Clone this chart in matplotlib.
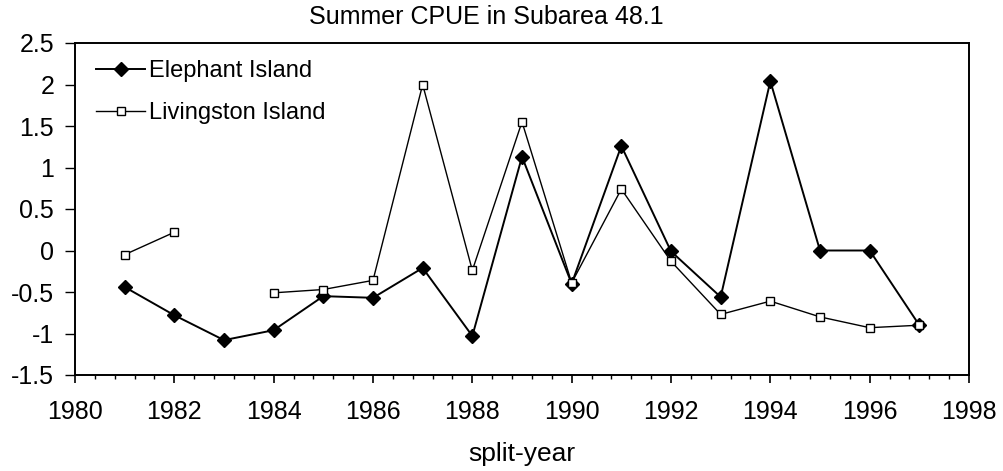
import matplotlib.pyplot as plt
import numpy as np
from matplotlib.ticker import MultipleLocator

plt.rcParams['font.family'] = ['Liberation Sans', 'DejaVu Sans']

# split-years and CPUE values
years = [1981, 1982, 1983, 1984, 1985, 1986, 1987, 1988, 1989,
         1990, 1991, 1992, 1993, 1994, 1995, 1996, 1997]
elephant = [-0.44, -0.78, -1.08, -0.96, -0.55, -0.57, -0.21, -1.03, 1.13,
            -0.40, 1.26, -0.01, -0.56, 2.04, 0.0, 0.0, -0.90]
livingston = [-0.05, 0.22, np.nan, -0.51, -0.47, -0.36, 2.0, -0.24, 1.55,
              -0.39, 0.74, -0.13, -0.77, -0.61, -0.80, -0.93, -0.90]

fig = plt.figure(figsize=(10.04, 4.71), dpi=100)
ax = fig.add_axes([75 / 1004, 96 / 471, 894 / 1004, 332 / 471])

ax.plot(years, elephant, color='black', lw=1.4, marker='D', markersize=7.5,
        markerfacecolor='black', label='Elephant Island')
ax.plot(years, livingston, color='black', lw=1.0, marker='s', markersize=6,
        markerfacecolor='white', markeredgecolor='black', markeredgewidth=1.0,
        label='Livingston Island')

ax.set_xlim(1980, 1998)
ax.set_ylim(-1.5, 2.5)
ax.xaxis.set_major_locator(MultipleLocator(2))
ax.xaxis.set_minor_locator(MultipleLocator(0.4))
ax.yaxis.set_major_locator(MultipleLocator(0.5))
ax.yaxis.set_major_formatter(plt.FuncFormatter(lambda v, p: f'{v:g}'))

ax.tick_params(axis='both', direction='out', labelsize=18, color='black')
ax.tick_params(axis='x', which='major', length=6, width=1.2, pad=12)
ax.tick_params(axis='x', which='minor', length=3, width=1.0)
ax.tick_params(axis='y', which='major', length=7, width=1.0, pad=8)
for s in ax.spines.values():
    s.set_linewidth(1.4)

# title sits a little left of the axes centre in the original
ax.set_title('Summer CPUE in Subarea 48.1', fontsize=18, pad=14, x=0.46)
ax.set_xlabel('split-year', fontsize=19, labelpad=13)

ax.legend(loc='upper left', frameon=False, fontsize=17, handlelength=2.1,
          handletextpad=0.15, labelspacing=0.85, borderaxespad=0.1,
          bbox_to_anchor=(0.01, 0.985))

fig.savefig('out.png', dpi=100)
